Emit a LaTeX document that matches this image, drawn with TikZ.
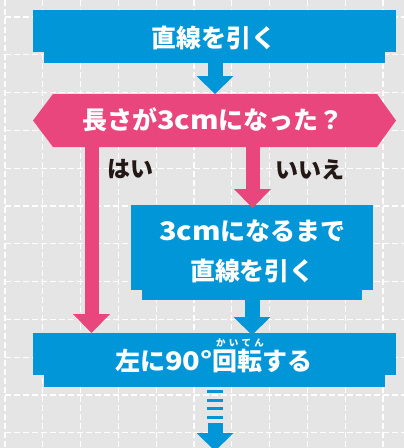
\documentclass[tikz,border=0pt]{standalone}
\usepackage{fontspec}
\newfontfamily\jp{Noto Sans CJK JP}
\usetikzlibrary{arrows.meta}
\definecolor{bgray}{RGB}{229,229,229}
\definecolor{fblue}{RGB}{0,150,216}
\definecolor{fpink}{RGB}{232,70,125}
\definecolor{fdark}{RGB}{35,24,21}
\newcommand{\wlat}[1]{\scalebox{1.16}[1.02]{#1}}
\tikzset{
  gridline/.style={white, line width=1.1pt, dash pattern=on 6pt off 3pt},
  bluebox/.style={rectangle, fill=fblue, inner sep=0pt, outer sep=0pt},
  boxtext/.style={text=white, font=\jp\bfseries\fontsize{25}{40}\selectfont, inner sep=0pt, align=center},
  labeltext/.style={text=fdark, font=\jp\bfseries\fontsize{23}{28}\selectfont, inner sep=0pt},
  rubytext/.style={text=white, font=\jp\bfseries\fontsize{9.5}{10}\selectfont, inner sep=0pt},
  bluearrow/.style={draw=fblue, line width=15pt, -{Triangle[width=37pt,length=18pt,line width=0pt]}},
  pinkarrow/.style={draw=fpink, line width=14pt, -{Triangle[width=37pt,length=19pt,line width=0pt]}},
  dashbar/.style={draw=fblue, line width=3pt}
}
\begin{document}
\begin{tikzpicture}[x=1pt, y=-1pt]
\useasboundingbox (0,0) rectangle (404,448);
\fill[bgray] (0,0) rectangle (404,448);
\begin{scope}
\clip (0,0) rectangle (404,448);
\foreach \i in {0,...,10} \draw[gridline] ({5+37.8*\i},0) -- ({5+37.8*\i},448);
\foreach \j in {0,...,11} \draw[gridline] (5,{17+37.8*\j}) -- (404,{17+37.8*\j});
\end{scope}

% box 1
\node[bluebox, minimum width=341pt, minimum height=20pt] (b1t) at (214.5,53) {};
\node[bluebox, minimum width=363pt, minimum height=42pt] (b1) at (214.5,31) {};
\node[boxtext] (t1) at (214,38) {直線を引く};

% decision hexagon
\fill[fpink] (33,120.5) -- (53,94) -- (377,94) -- (396,120.5) -- (377,147) -- (53,147) -- cycle;
\coordinate (hexN) at (215,94);
\coordinate (hexL) at (91.5,147);
\coordinate (hexR) at (252.5,147);
\node[boxtext] (q) at (213,120) {長さが\wlat{3cm}になった？};

% box 2
\node[bluebox, minimum width=220pt, minimum height=20pt] (b2t) at (252,290) {};
\node[bluebox, minimum width=242pt, minimum height=85pt] (b2) at (252,247.5) {};
\node[boxtext] (t2) at (252.5,251) {\wlat{3cm}になるまで\\直線を引く};

% box 3
\node[bluebox, minimum width=341pt, minimum height=20pt] (b3t) at (214.5,377) {};
\node[bluebox, minimum width=363pt, minimum height=42pt] (b3) at (214.5,354) {};
\node[boxtext] (t3) at (214,361) {左に\wlat{90°}回転する};
\node[rubytext] (r3) at (240,343) {か\hspace{3.2pt}い\hspace{3.2pt}て\hspace{3.2pt}ん};

% labels
\node[labeltext] (yes) at (130,169) {はい};
\node[labeltext] (no) at (310,170) {いいえ};

% connectors
\draw[bluearrow] (b1t.south -| hexN) -- (hexN);
\draw[pinkarrow] (hexL) -- (b3.north -| hexL);
\draw[pinkarrow] (hexR) -- ([yshift=-3pt]b2.north -| hexR);
\draw[bluearrow] (b2t.south) -- ([yshift=-2pt]b3.north -| b2t.south);

% continuation
\coordinate (c1) at (215,423);
\coordinate (c2) at (215,451);
\foreach \y in {391,400,408,417} \draw[dashbar] (207,\y) -- (223,\y);
\draw[bluearrow] (c1) -- (c2);
\end{tikzpicture}
\end{document}
